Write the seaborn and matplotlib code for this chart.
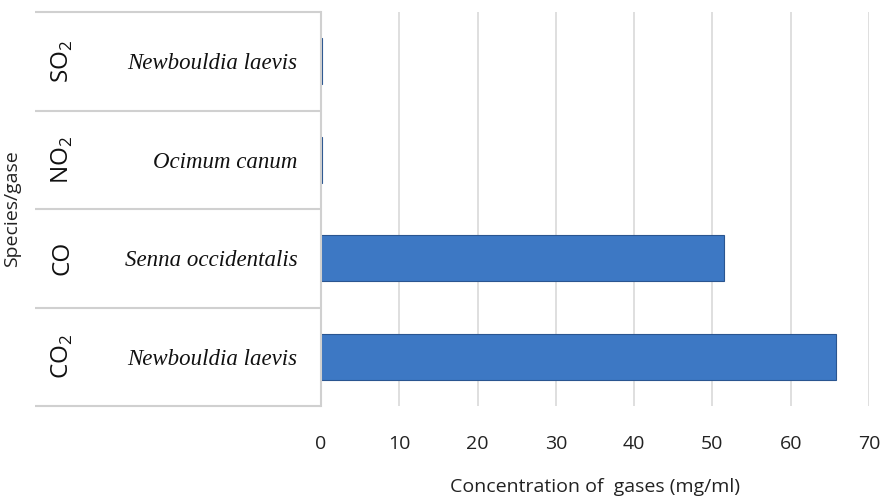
import numpy as np
import pandas as pd
import matplotlib.pyplot as plt
import seaborn as sns

# data, top row first
gases = ['SO$_\\mathregular{2}$', 'NO$_\\mathregular{2}$', 'CO', 'CO$_\\mathregular{2}$']
species = ['Newbouldia laevis', 'Ocimum canum', 'Senna occidentalis', 'Newbouldia laevis']
concentration = [0.12, 0.15, 51.5, 65.8]
x_ticks = [0, 10, 20, 30, 40, 50, 60, 70]

df = pd.DataFrame({'row': [f'{s} / {g}' for s, g in zip(species, gases)],
                   'conc': concentration})

sns.set_theme(style='white')
plt.rcParams['font.family'] = ['Open Sans', 'DejaVu Sans']

fig = plt.figure(figsize=(8.83, 5.01), dpi=100)
bottom, height = 1 - 406 / 501, 394 / 501
ax = fig.add_axes([321 / 883, bottom, 548 / 883, height])
# left table part (gas column + species column)
tab = fig.add_axes([35 / 883, bottom, 286 / 883, height], zorder=-1)

sns.barplot(data=df, y='row', x='conc', orient='h', order=list(df['row']),
            color='#3d78c4', edgecolor='#2a5590', linewidth=0.8,
            width=0.47, saturation=1, ax=ax)

ax.set_xlim(0, 70)
ax.set_ylim(3.5, -0.5)
ax.set_xticks(x_ticks)
ax.set_xticklabels([str(t) for t in x_ticks], fontsize=14, color='#222222')
ax.set_yticks(range(len(species)))
ax.set_yticklabels(species, fontfamily='Liberation Serif', fontstyle='italic',
                   fontsize=16.5, color='#111111')
ax.tick_params(axis='x', length=0, pad=21)
ax.tick_params(axis='y', length=0, pad=17)

ax.grid(axis='x', color='#d9d9d9', linewidth=1.2)
for side in ['top', 'right', 'bottom']:
    ax.spines[side].set_visible(False)
ax.spines['left'].set_color('#d0d0d0')
ax.spines['left'].set_linewidth(1.5)

ax.set_ylabel('')
ax.set_xlabel('Concentration of  gases (mg/ml)', fontsize=14, color='#222222',
              labelpad=18)

# table rows
tab.set_xlim(0, 1)
tab.set_ylim(3.5, -0.5)
tab.hlines(np.arange(-0.5, len(species), 1.0), 0, 1, color='#d0d0d0',
           lw=1.5, clip_on=False)
for i, g in enumerate(gases):
    tab.text(0.095, i, g, rotation=90, ha='center', va='center',
             fontsize=17.5, color='#111111')
tab.set_axis_off()

fig.text(12 / 883, 1 - 209 / 501, 'Species/gase', rotation=90, ha='center',
         va='center', fontsize=14, color='#222222')

fig.savefig('out.png', dpi=100)
